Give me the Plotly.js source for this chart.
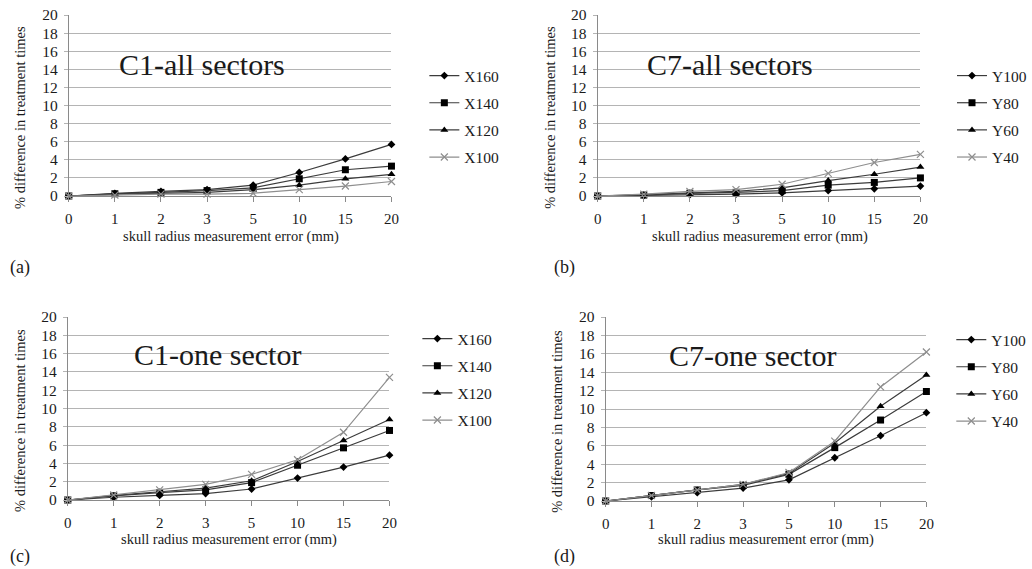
<!DOCTYPE html>
<html>
<head>
<meta charset="utf-8">
<script src="https://cdn.plot.ly/plotly-3.0.1.min.js"></script>
<style>
html,body{margin:0;padding:0;background:#fff;}
#chart{width:1032px;height:569px;}
</style>
</head>
<body>
<div id="chart"></div>
<script>
// ---- data ----
const categories = ['0','1','2','3','5','10','15','20'];

const namesX = ['X160','X140','X120','X100'];
const namesY = ['Y100','Y80','Y60','Y40'];

// (a) C1-all sectors
const a_X160 = [0,0.3,0.5,0.7,1.2,2.6,4.1,5.7];
const a_X140 = [0,0.25,0.4,0.6,0.9,1.9,2.9,3.3];
const a_X120 = [0,0.2,0.3,0.4,0.7,1.2,1.9,2.4];
const a_X100 = [0,0.1,0.2,0.2,0.3,0.7,1.1,1.6];

// (b) C7-all sectors
const b_Y100 = [0,0.05,0.15,0.2,0.35,0.6,0.8,1.1];
const b_Y80  = [0,0.1,0.3,0.4,0.6,1.2,1.5,2.0];
const b_Y60  = [0,0.15,0.35,0.5,0.9,1.7,2.4,3.2];
const b_Y40  = [0,0.2,0.5,0.7,1.3,2.5,3.7,4.6];

// (c) C1-one sector
const c_X160 = [0,0.3,0.5,0.7,1.2,2.4,3.6,4.9];
const c_X140 = [0,0.45,0.8,1.1,1.9,3.8,5.7,7.6];
const c_X120 = [0,0.5,0.9,1.3,2.1,4.2,6.5,8.8];
const c_X100 = [0,0.55,1.1,1.7,2.8,4.4,7.4,13.4];

// (d) C7-one sector
const d_Y100 = [0,0.45,0.9,1.4,2.3,4.7,7.1,9.6];
const d_Y80  = [0,0.6,1.2,1.7,2.9,5.8,8.8,11.9];
const d_Y60  = [0,0.6,1.2,1.8,3.0,6.3,10.3,13.7];
const d_Y40  = [0,0.6,1.2,1.8,3.1,6.5,12.4,16.2];

const panelTitles = ['C1-all sectors','C7-all sectors','C1-one sector','C7-one sector'];
const panelLabels = ['(a)','(b)','(c)','(d)'];
const xTitle = 'skull radius measurement error (mm)';
const yTitle = '% difference in treatment times';
const yTicks = [0,2,4,6,8,10,12,14,16,18,20];

// ---- styles ----
const SERIF = 'Liberation Serif';
const TXT = '#1a1a1a';
const DARK = '#3c3c3c';
const LIGHT = '#8e8e8e';
const symbols = ['diamond','square','triangle-up','x-thin'];
const msizes = [6,7,7,7];

const panels = [
  {series:[a_X160,a_X140,a_X120,a_X100], names:namesX},
  {series:[b_Y100,b_Y80,b_Y60,b_Y40], names:namesY},
  {series:[c_X160,c_X140,c_X120,c_X100], names:namesX},
  {series:[d_Y100,d_Y80,d_Y60,d_Y40], names:namesY}
];

const W = 1032, H = 569;
// pixel boxes [left, right, top, bottom]
const boxes = [[69,393,15,196],[600,924,15,196],[68,391,317,500],[608,930,317,501]];
const legendPos = [[426,59],[956,59],[419,322],[955,323]];
const titlePos = [[203,65],[733,65],[218,354],[755,355]];
const labelPos = [[20,267],[567,267],[20,556],[567,556]];
const xTitlePos = [[232,236],[763,236],[230,539],[769,539]];
const yTitlePos = [[20,117],[552,117],[20,420],[559,421]];

const px = x => x / W;
const py = y => 1 - y / H;

const traces = [];
const layout = {
  width: W, height: H,
  margin: {l:0,r:0,t:0,b:0},
  paper_bgcolor: '#fff', plot_bgcolor: '#fff',
  font: {family: SERIF, color: TXT},
  showlegend: true,
  annotations: []
};

panels.forEach((p, i) => {
  const n = i + 1;
  const xa = n === 1 ? 'x' : 'x' + n;
  const ya = n === 1 ? 'y' : 'y' + n;
  const lg = n === 1 ? 'legend' : 'legend' + n;
  p.series.forEach((vals, k) => {
    const light = k === 3;
    traces.push({
      type: 'scatter', mode: 'lines+markers',
      x: categories, y: vals, name: p.names[k],
      xaxis: xa, yaxis: ya, legend: lg, legendgroup: 'g' + n + k,
      line: {color: light ? LIGHT : DARK, width: 1.2},
      marker: {symbol: symbols[k], size: msizes[k], color: light ? LIGHT : '#000',
               line: {width: light ? 1.2 : 0, color: light ? LIGHT : '#000'}},
      cliponaxis: false
    });
  });
  const b = boxes[i];
  layout['xaxis' + (n === 1 ? '' : n)] = {
    domain: [px(b[0]), px(b[1])], anchor: ya,
    type: 'category', categoryorder: 'array', categoryarray: categories,
    range: [0, 7], showgrid: false, zeroline: false,
    showline: true, linecolor: '#8a8a8a', linewidth: 1,
    ticks: 'outside', ticklen: 5, tickcolor: '#8a8a8a', ticklabelstandoff: 4,
    tickfont: {family: SERIF, size: 15, color: TXT}, fixedrange: true
  };
  layout['yaxis' + (n === 1 ? '' : n)] = {
    domain: [py(b[3]), py(b[2])], anchor: xa,
    range: [0, 20], tickvals: yTicks, showgrid: true, gridcolor: '#b4b4b4', gridwidth: 1,
    zeroline: false, showline: true, linecolor: '#8a8a8a', linewidth: 1,
    ticks: 'outside', ticklen: 4, tickcolor: '#b4b4b4', ticklabelstandoff: 3,
    tickfont: {family: SERIF, size: 15.5, color: TXT}, fixedrange: true
  };
  layout[lg] = {
    x: px(legendPos[i][0]), y: py(legendPos[i][1]), xanchor: 'left', yanchor: 'top',
    xref: 'paper', yref: 'paper',
    bgcolor: 'rgba(0,0,0,0)', borderwidth: 0,
    font: {family: SERIF, size: 15.5, color: TXT},
    tracegroupgap: 4, traceorder: 'grouped', itemwidth: 30
  };
  layout.annotations.push({
    xref: 'paper', yref: 'paper', x: px(titlePos[i][0]), y: py(titlePos[i][1]),
    text: panelTitles[i], showarrow: false, xanchor: 'center', yanchor: 'middle',
    font: {family: SERIF, size: 30, color: TXT}
  });
  layout.annotations.push({
    xref: 'paper', yref: 'paper', x: px(labelPos[i][0]), y: py(labelPos[i][1]),
    text: panelLabels[i], showarrow: false, xanchor: 'center', yanchor: 'middle',
    font: {family: SERIF, size: 18, color: TXT}
  });
  layout.annotations.push({
    xref: 'paper', yref: 'paper', x: px(xTitlePos[i][0]), y: py(xTitlePos[i][1]),
    text: xTitle, showarrow: false, xanchor: 'center', yanchor: 'middle',
    font: {family: SERIF, size: 14.5, color: TXT}
  });
  layout.annotations.push({
    xref: 'paper', yref: 'paper', x: px(yTitlePos[i][0]), y: py(yTitlePos[i][1]),
    text: yTitle, showarrow: false, xanchor: 'center', yanchor: 'middle', textangle: -90,
    font: {family: SERIF, size: 14.5, color: TXT}
  });
});

Plotly.newPlot('chart', traces, layout, {displayModeBar: false});
</script>
</body>
</html>
